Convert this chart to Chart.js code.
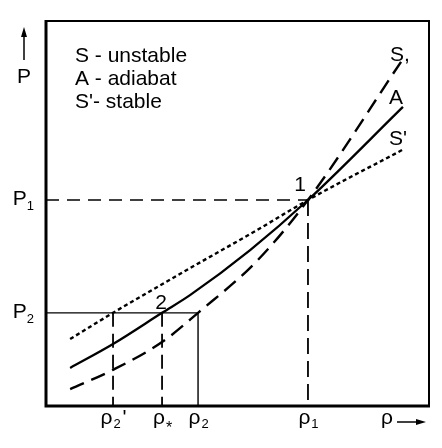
<!DOCTYPE html>
<html>
<head>
<meta charset="utf-8">
<script src="https://cdn.jsdelivr.net/npm/chart.js@4/dist/chart.umd.min.js"></script>
<style>
  html, body { margin: 0; padding: 0; background: #ffffff; }
  canvas { display: block; }
</style>
</head>
<body>
<canvas id="c" width="442" height="448"></canvas>
<script>
// ---- data (abstract units) ----
const curveX_S = [0.63, 1.75, 3.03, 3.97, 5.51, 6.84, 9.27];
const curveY_S = [0.44, 0.94, 1.66, 2.42, 3.77, 5.35, 8.94];      // S  - unstable (dashed)
const curveX_A = [0.63, 1.75, 3.03, 3.76, 5.33, 6.84, 9.32];
const curveY_A = [0.99, 1.61, 2.42, 2.88, 4.05, 5.35, 7.77];      // A  - adiabat (solid)
const curveX_Sp = [0.63, 1.75, 3.76, 5.51, 6.84, 9.30];
const curveY_Sp = [1.74, 2.42, 3.58, 4.57, 5.35, 6.65];           // S' - stable (dotted)

const rho2p = 1.75, rhoStar = 3.03, rho2 = 3.97, rho1 = 6.84;
const P1 = 5.35, P2 = 2.42;

const xTickValues = [rho2p, rhoStar, rho2, rho1];
const xTickLabels = [['ρ', '2', "'"], ['ρ', '*', ''], ['ρ', '2', ''], ['ρ', '1', '']];
const yTickValues = [P1, P2];
const yTickLabels = [['P', '1'], ['P', '2']];
const legendLines = ['S - unstable', 'A - adiabat', "S'- stable"];
const curveLabels = ['S,', 'A', "S'"];

const pts = (xs, ys) => xs.map((x, i) => ({ x: x, y: ys[i] }));
const seg = (x0, y0, x1, y1) => [{ x: x0, y: y0 }, { x: x1, y: y1 }];

const FONT = '"Liberation Sans", Arial, Helvetica, sans-serif';

function lineDs(data, width, dash, smooth) {
  return {
    data: data, showLine: true, borderColor: '#000', backgroundColor: '#000',
    borderWidth: width, borderDash: dash, pointRadius: 0, fill: false,
    cubicInterpolationMode: smooth ? 'monotone' : 'default', tension: 0,
    borderCapStyle: 'butt'
  };
}

const annot = {
  id: 'annot',
  beforeDatasetsDraw(chart) {
    const ctx = chart.ctx, a = chart.chartArea;
    ctx.save();
    ctx.strokeStyle = '#000';
    // frame
    ctx.lineWidth = 2;
    ctx.beginPath();
    ctx.moveTo(a.left, a.top); ctx.lineTo(a.right, a.top); ctx.lineTo(a.right, a.bottom);
    ctx.stroke();
    ctx.lineWidth = 3;
    ctx.beginPath();
    ctx.moveTo(a.left, a.top - 1); ctx.lineTo(a.left, a.bottom); ctx.lineTo(a.right + 1, a.bottom);
    ctx.stroke();
    ctx.restore();
  },
  afterDatasetsDraw(chart) {
    const ctx = chart.ctx, a = chart.chartArea;
    const xs = chart.scales.x, ys = chart.scales.y;
    ctx.save();
    ctx.fillStyle = '#000';
    ctx.strokeStyle = '#000';
    ctx.textBaseline = 'alphabetic';

    // legend text block
    ctx.font = '21px ' + FONT;
    ctx.textAlign = 'left';
    legendLines.forEach((t, i) => ctx.fillText(t, a.left + 29, a.top + 41 + i * 23));

    // curve end labels
    ctx.textAlign = 'left';
    ctx.fillText(curveLabels[0], 390, 61);
    ctx.fillText(curveLabels[1], 389, 104);
    ctx.fillText(curveLabels[2], 389, 145);

    // point labels
    ctx.textAlign = 'center';
    ctx.fillText('1', xs.getPixelForValue(rho1) - 8, ys.getPixelForValue(P1) - 9);
    ctx.fillText('2', xs.getPixelForValue(rhoStar) - 1, ys.getPixelForValue(P2) - 4);

    // x tick labels
    xTickValues.forEach((v, i) => {
      const [m, s, pr] = xTickLabels[i];
      ctx.font = '21px ' + FONT; const wm = ctx.measureText(m).width;
      const subFont = (s === '*' ? '16px ' : '13px ') + FONT;
      ctx.font = subFont; const ws = ctx.measureText(s).width;
      ctx.font = '21px ' + FONT; const wp = pr ? ctx.measureText(pr).width + 2 : 0;
      const total = wm + ws + wp;
      let x = xs.getPixelForValue(v) - total / 2;
      const base = a.bottom + 18;
      ctx.textAlign = 'left';
      ctx.font = '21px ' + FONT; ctx.fillText(m, x, base); x += wm;
      ctx.font = subFont; ctx.fillText(s, x + 1, base + (s === '*' ? 9 : 4)); x += ws;
      if (pr) { ctx.font = '21px ' + FONT; ctx.fillText(pr, x + 3, base); }
    });

    // y tick labels
    yTickValues.forEach((v, i) => {
      const [m, s] = yTickLabels[i];
      const y = ys.getPixelForValue(v);
      ctx.font = '13px ' + FONT; const ws = ctx.measureText(s).width;
      ctx.textAlign = 'right';
      ctx.fillText(s, a.left - 12, y + 10);
      ctx.font = '21px ' + FONT;
      ctx.fillText(m, a.left - 12 - ws, y + 5);
    });

    // axis titles with arrows
    ctx.font = '21px ' + FONT;
    ctx.textAlign = 'center';
    ctx.fillText('P', 24, 83);
    ctx.lineWidth = 1.5;
    ctx.beginPath(); ctx.moveTo(24, 60); ctx.lineTo(24, 33); ctx.stroke();
    ctx.beginPath(); ctx.moveTo(24, 27); ctx.lineTo(21, 37); ctx.lineTo(27, 37); ctx.closePath(); ctx.fill();

    ctx.textAlign = 'left';
    ctx.fillText('ρ', 381, a.bottom + 18);
    ctx.beginPath(); ctx.moveTo(397, a.bottom + 16); ctx.lineTo(418, a.bottom + 16); ctx.stroke();
    ctx.beginPath(); ctx.moveTo(426, a.bottom + 16); ctx.lineTo(416, a.bottom + 13); ctx.lineTo(416, a.bottom + 19); ctx.closePath(); ctx.fill();
    ctx.restore();
  }
};

new Chart(document.getElementById('c'), {
  type: 'scatter',
  data: {
    datasets: [
      lineDs(pts(curveX_S, curveY_S), 2.4, [15, 8], true),
      lineDs(pts(curveX_A, curveY_A), 2.3, [], true),
      lineDs(pts(curveX_Sp, curveY_Sp), 2.4, [4, 3], true),
      lineDs(seg(0, P1, rho1, P1), 1.6, [13, 8], false),
      lineDs(seg(rho1, P1, rho1, 0), 1.8, [16, 7], false),
      lineDs(seg(0, P2, rho2, P2), 1.4, [], false),
      lineDs(seg(rho2p, P2, rho2p, 0), 1.8, [14, 7], false),
      lineDs(seg(rhoStar, P2, rhoStar, 0), 1.8, [14, 7], false),
      lineDs(seg(rho2, P2, rho2, 0), 1.4, [], false)
    ]
  },
  options: {
    responsive: false,
    animation: false,
    layout: { padding: { left: 46, right: 13, top: 21, bottom: 42 } },
    scales: {
      x: { type: 'linear', min: 0, max: 10, display: false },
      y: { type: 'linear', min: 0, max: 10, display: false }
    },
    plugins: { legend: { display: false }, tooltip: { enabled: false } },
    events: []
  },
  plugins: [annot]
});
</script>
</body>
</html>
